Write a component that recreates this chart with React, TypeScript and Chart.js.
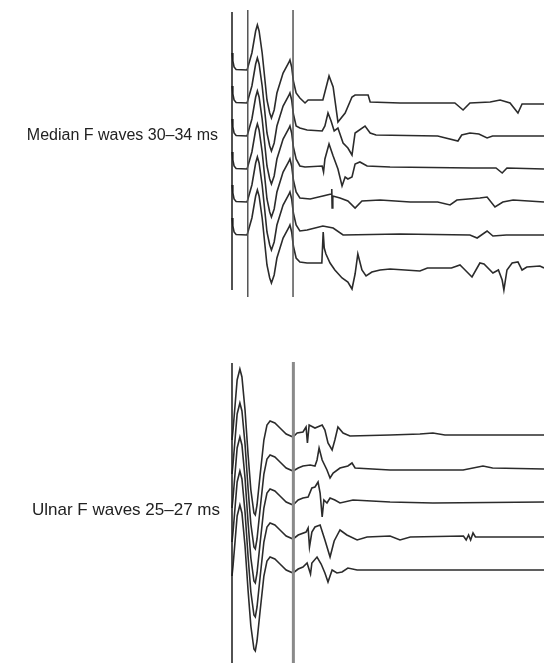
import React, { useEffect, useRef } from "react";
import { Chart, registerables } from "chart.js";

Chart.register(...registerables);

// Sweep length (ms) shown by each panel
const SWEEP_MS = 91;

// ---------- Median nerve (6 traces) ----------
// M response (same for every trace): [time ms, amplitude]
const MEDIAN_M: [number, number][] = [
  [0, 50], [0.25, 42], [0.6, 36], [1.2, 33.5], [4.4, 33], [5.8, 50], [6.9, 72], [7.4, 78],
  [7.9, 72], [8.8, 50], [10.2, 3], [11.0, -10], [11.5, -15], [12.3, -7],
  [13.1, 10], [14.9, 30], [16.5, 40], [16.9, 43], [17.4, 36], [17.9, 22], [18.7, 10],
];
const MEDIAN_F1: [number, number][] = [
  [19.8, 5], [21.3, 0], [22.2, 3], [26.5, 3], [27.1, 11], [28.3, 27], [29.5, 16],
  [30.9, -19], [33.0, -10], [35.0, 6], [35.9, 8], [39.7, 8], [40.3, 1], [49.0, 0],
  [65.0, 0], [67.4, -7], [69.4, 0], [75.3, 1], [78.2, 3], [81.1, 0], [83.4, -10],
  [84.6, -1], [91, -1],
];
const MEDIAN_F2: [number, number][] = [
  [19.8, 8], [21.9, 6], [26.3, 5], [27.1, 10], [28.0, 23], [28.9, 15], [29.8, 5],
  [30.9, 8], [32.4, -7], [33.8, -12], [35.0, -19], [35.9, 3], [38.8, 10], [40.3, 3],
  [42.0, 1], [60.0, 0], [65.9, -5], [67.0, 1], [69.4, 3], [72.0, 2], [74.4, -2],
  [76.0, 0], [91, 0],
];
const MEDIAN_F3: [number, number][] = [
  [19.8, 3], [21.3, 2], [26.3, 3], [26.7, -3], [27.1, 10], [28.3, 25], [29.5, 13],
  [30.9, 0], [32.1, -17], [33.0, -8], [33.8, -10], [35.0, -8], [35.9, 5], [37.3, 7],
  [39.4, 3], [46.1, 2], [70.0, 1], [77.0, 1], [78.8, -4], [80.2, 1], [91, 0],
];
const MEDIAN_F4: [number, number][] = [
  [19.8, 4], [22.8, 3], [26.5, 6], [28.9, 8], [29.1, 13], [29.2, -6], [29.4, 6],
  [31.5, 4], [33.8, 1], [35.9, -6], [37.9, 1], [43.2, 2], [52.0, 0], [60.0, 0],
  [63.6, -3], [65.6, 2], [72.3, 4], [74.4, 5], [76.7, -5], [79.0, 0], [82.0, 2], [91, 0],
];
const MEDIAN_F5: [number, number][] = [
  [19.8, 4], [21.9, 5], [26.5, 9], [29.5, 7], [32.4, 0], [49.0, 1], [69.4, 0],
  [71.5, -3], [74.4, 4], [76.1, -1], [80.0, 0], [91, 0],
];
const MEDIAN_F6: [number, number][] = [
  [19.8, 6], [21.9, 5], [26.2, 5], [26.6, 36], [26.9, 20], [27.4, 14], [28.6, 5],
  [30.0, -2], [32.1, -10], [33.8, -14], [35.0, -21], [35.9, -6], [36.7, 14],
  [37.9, -2], [39.1, -8], [40.8, -4], [43.2, -2], [46.1, -1], [54.8, -3], [57.0, 0],
  [64.0, 0], [66.5, 3], [67.4, 0], [70.0, -9], [72.3, 5], [73.5, 4], [76.1, -5],
  [77.7, -2], [78.8, -12], [79.3, -22], [80.2, -2], [81.7, 5], [83.4, 6], [84.6, -2],
  [86.0, 1], [89.8, 2], [91, 0],
];
const MEDIAN_F_WAVES = [MEDIAN_F1, MEDIAN_F2, MEDIAN_F3, MEDIAN_F4, MEDIAN_F5, MEDIAN_F6];
const MEDIAN_MARKERS_MS = [0, 4.6, 17.8];

// ---------- Ulnar nerve (5 traces) ----------
const ULNAR_M: [number, number][] = [
  [0, -5], [0.3, 5], [0.9, 30], [1.5, 55], [2.3, 66], [2.9, 58], [3.8, 25],
  [4.7, -20], [5.5, -55], [6.4, -78], [6.8, -80], [7.3, -70], [8.2, -40],
  [9.3, -5], [10.2, 10], [11.1, 14], [12.5, 12], [14.0, 7], [15.8, 1], [17.8, -2],
];
const ULNAR_F1: [number, number][] = [
  [19.0, 2], [20.7, 3], [21.6, 8], [22.0, -8], [22.5, 10], [24.2, 7], [26.3, 10],
  [27.1, 5], [28.0, -8], [29.2, -15], [30.0, -5], [30.9, 8], [32.4, 2], [34.4, -1],
  [46.1, 0], [54.8, 1], [58.6, 2], [62.1, 0], [91, 0],
];
const ULNAR_F2: [number, number][] = [
  [19.3, 1], [20.7, 3], [22.8, 4], [24.2, 3], [24.8, 9], [25.4, 21], [26.3, 9],
  [27.7, -1], [28.6, -9], [29.5, -4], [31.5, 1], [33.8, 3], [35.0, 6], [35.9, 1],
  [46.1, -1], [67.4, -1], [73.2, 3], [76.0, 1], [91, 0],
];
const ULNAR_F3: [number, number][] = [
  [19.3, 3], [20.7, 5], [22.2, 6], [23.3, 15], [24.2, 16], [25.1, 21], [25.7, 10],
  [26.3, -14], [26.8, 3], [27.7, 0], [28.6, 5], [30.0, 3], [31.5, 0], [35.3, 3],
  [46.1, 1], [58.6, 0], [91, 1],
];
const ULNAR_F4: [number, number][] = [
  [19.3, 2], [21.6, 5], [22.2, 9], [22.6, -10], [23.3, 5], [24.2, 10], [25.7, 12],
  [27.1, -3], [28.6, -20], [29.8, -4], [31.5, 7], [33.5, 2], [36.5, -3], [39.4, 0],
  [46.1, 1], [49.0, -3], [52.0, 0], [67.5, 1], [68.3, -3], [69.0, 2], [69.6, -3],
  [70.3, 4], [71.0, 0], [91, 0],
];
const ULNAR_F5: [number, number][] = [
  [19.3, 2], [20.7, 4], [21.9, 8], [22.9, -3], [23.3, 8], [24.8, 14], [26.0, 7],
  [27.1, -2], [28.0, -11], [29.2, 1], [30.6, -2], [32.1, -1], [33.8, 3], [36.5, 1],
  [91, 1],
];
const ULNAR_F_WAVES = [ULNAR_F1, ULNAR_F2, ULNAR_F3, ULNAR_F4, ULNAR_F5];
const ULNAR_MARKERS_MS = [0, 17.9];

const LABEL_MEDIAN = "Median F waves 30–34 ms";
const LABEL_ULNAR = "Ulnar F waves 25–27 ms";

type Marker = { t: number; from: number; to: number; color: string; width: number };

type PanelProps = {
  top: number;
  height: number;
  yMax: number;
  spacing: number;
  mWave: [number, number][];
  fWaves: [number, number][][];
  markers: Marker[];
};

function Panel({ top, height, yMax, spacing, mWave, fWaves, markers }: PanelProps) {
  const ref = useRef<HTMLCanvasElement | null>(null);
  useEffect(() => {
    if (!ref.current) return;
    const traces = fWaves.map((f, i) => ({
      data: [...mWave, ...f].map(([t, a]) => ({ x: t, y: a - i * spacing })),
      borderColor: "#2b2b2b",
      borderWidth: 1.6,
      pointRadius: 0,
      tension: 0,
      clip: false as const,
    }));
    const lines = markers.map((m) => ({
      data: [
        { x: m.t, y: m.from },
        { x: m.t, y: m.to },
      ],
      borderColor: m.color,
      borderWidth: m.width,
      pointRadius: 0,
      clip: false as const,
    }));
    const chart = new Chart(ref.current, {
      type: "line",
      data: { datasets: [...lines, ...traces] as any },
      options: {
        animation: false,
        responsive: false,
        devicePixelRatio: 1,
        events: [],
        layout: { padding: { left: 232, right: 0, top: 0, bottom: 0 } },
        plugins: { legend: { display: false }, tooltip: { enabled: false } },
        scales: {
          x: { type: "linear", min: 0, max: SWEEP_MS, display: false },
          y: { type: "linear", min: yMax - height, max: yMax, display: false },
        },
      },
    });
    return () => chart.destroy();
  }, []);
  return (
    <canvas
      ref={ref}
      width={544}
      height={height}
      style={{ position: "absolute", left: 0, top, width: 544, height }}
    />
  );
}

export default function App() {
  const labelStyle: React.CSSProperties = {
    position: "absolute",
    left: 0,
    textAlign: "right",
    fontFamily: "'Liberation Sans', Arial, sans-serif",
    lineHeight: "20px",
    color: "#222",
    whiteSpace: "nowrap",
  };
  return (
    <div style={{ position: "absolute", left: 0, top: 0, width: 544, height: 663, background: "#fff", overflow: "hidden" }}>
      <Panel
        top={0}
        height={330}
        yMax={103}
        spacing={33}
        mWave={MEDIAN_M}
        fWaves={MEDIAN_F_WAVES}
        markers={[
          { t: MEDIAN_MARKERS_MS[0], from: 91, to: -187, color: "#1a1a1a", width: 1.5 },
          { t: MEDIAN_MARKERS_MS[1], from: 93, to: -194, color: "#555", width: 1.5 },
          { t: MEDIAN_MARKERS_MS[2], from: 93, to: -194, color: "#555", width: 1.5 },
        ]}
      />
      <Panel
        top={330}
        height={333}
        yMax={105}
        spacing={34}
        mWave={ULNAR_M}
        fWaves={ULNAR_F_WAVES}
        markers={[
          { t: ULNAR_MARKERS_MS[0], from: 72, to: -228, color: "#1a1a1a", width: 1.5 },
          { t: ULNAR_MARKERS_MS[1], from: 73, to: -228, color: "#8a8a8a", width: 3 },
        ]}
      />
      <div style={{ ...labelStyle, top: 125, width: 218, fontSize: 16 }}>{LABEL_MEDIAN}</div>
      <div style={{ ...labelStyle, top: 500, width: 220, fontSize: 17 }}>{LABEL_ULNAR}</div>
    </div>
  );
}
